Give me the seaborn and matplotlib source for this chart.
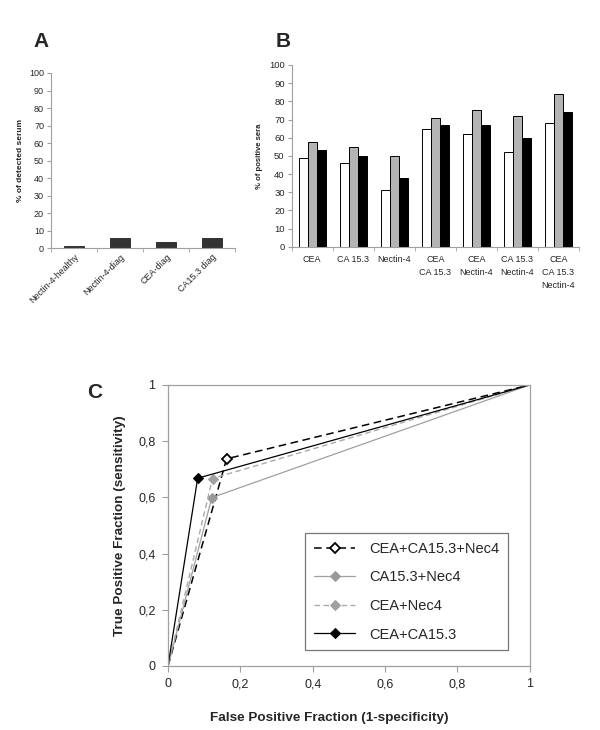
import numpy as np
import pandas as pd
import matplotlib
matplotlib.use("Agg")
import matplotlib.pyplot as plt
import seaborn as sns
from matplotlib.ticker import FixedLocator, FuncFormatter

# Datos panel A
a_labels = ["Nectin-4-healthy", "Nectin-4-diag", "CEA-diag", "CA15.3 diag"]
a_values = [1.5, 5.7, 3.8, 5.7]

# Datos panel B
b_groups = ["CEA", "CA 15.3", "Nectin-4", "CEA\nCA 15.3", "CEA\nNectin-4",
            "CA 15.3\nNectin-4", "CEA\nCA 15.3\nNectin-4"]
b_series = ["s1", "s2", "s3"]
b_white = [49, 46, 31, 64.5, 62, 52, 68]
b_gray = [57.5, 55, 50, 71, 75, 72, 84]
b_black = [53, 50, 38, 67, 67, 60, 74]

# Datos panel C (curvas ROC)
c_names = ["CEA+CA15.3+Nec4", "CA15.3+Nec4", "CEA+Nec4", "CEA+CA15.3"]
c_fpf = [[0, 0.162, 1], [0, 0.121, 1], [0, 0.123, 1], [0, 0.082, 1]]
c_tpf = [[0, 0.737, 1], [0, 0.599, 1], [0, 0.667, 1], [0, 0.668, 1]]

sns.set_style("white")
plt.rcParams["font.family"] = ["Liberation Sans", "DejaVu Sans"]

fig = plt.figure(figsize=(6, 7.3), dpi=100)
axis_gray = "#a0a0a0"

# ---- Panel A ----
axA = fig.add_axes([0.085, 0.660, 0.307, 0.240])
sns.barplot(x=a_labels, y=a_values, color="#333333", edgecolor="#222222",
            linewidth=0.6, width=0.43, ax=axA)
axA.set_xlim(-0.5, 3.5)
axA.set_ylim(0, 100)
axA.set_yticks(range(0, 101, 10))
axA.tick_params(axis="y", labelsize=6.5, length=3, color=axis_gray, pad=2, direction="out", left=True)
axA.tick_params(axis="x", which="major", length=0, labelsize=6.5, pad=3)
axA.xaxis.set_minor_locator(FixedLocator(np.arange(-0.5, 4, 1)))
axA.tick_params(axis="x", which="minor", length=3, color=axis_gray, direction="out", bottom=True)
plt.setp(axA.get_xticklabels(), rotation=45, ha="right", rotation_mode="anchor")
axA.set_ylabel("% of detected serum", fontsize=6, fontweight="bold", labelpad=4)
for s in ["top", "right"]:
    axA.spines[s].set_visible(False)
for s in ["left", "bottom"]:
    axA.spines[s].set_color(axis_gray)
    axA.spines[s].set_linewidth(0.8)
fig.text(0.055, 0.935, "A", fontsize=15, fontweight="bold")

# ---- Panel B ----
axB = fig.add_axes([0.486, 0.662, 0.479, 0.249])
dfB = pd.DataFrame({
    "group": b_groups * 3,
    "serie": [b_series[0]] * 7 + [b_series[1]] * 7 + [b_series[2]] * 7,
    "value": b_white + b_gray + b_black,
})
sns.barplot(data=dfB, x="group", y="value", hue="serie",
            palette=["white", "#b4b4b4", "black"], edgecolor="black",
            linewidth=0.7, width=0.66, ax=axB, legend=False)
axB.set_xlim(-0.5, 6.5)
axB.set_ylim(0, 100)
axB.set_yticks(range(0, 101, 10))
axB.tick_params(axis="y", labelsize=6.8, length=3, color=axis_gray, pad=2, direction="out", left=True)
axB.tick_params(axis="x", which="major", length=0, labelsize=6.5, pad=6)
axB.xaxis.set_minor_locator(FixedLocator(np.arange(-0.5, 7, 1)))
axB.tick_params(axis="x", which="minor", length=3, color=axis_gray, direction="out", bottom=True)
for lab in axB.get_xticklabels():
    lab.set_verticalalignment("top")
    lab.set_linespacing(1.6)
axB.set_xlabel("")
axB.set_ylabel("% of positive sera", fontsize=5.6, fontweight="bold", labelpad=4)
for s in ["top", "right"]:
    axB.spines[s].set_visible(False)
for s in ["left", "bottom"]:
    axB.spines[s].set_color(axis_gray)
    axB.spines[s].set_linewidth(0.8)
fig.text(0.46, 0.935, "B", fontsize=15, fontweight="bold")

# ---- Panel C ----
axC = fig.add_axes([0.28, 0.0877, 0.603, 0.385])
estilos = [
    dict(color="black", linestyle=(0, (5, 3)), linewidth=1.1, marker="D",
         markerfacecolor="white", markeredgecolor="black", markeredgewidth=1.3, markersize=5),
    dict(color="#a0a0a0", linestyle="-", linewidth=0.9, marker="D",
         markerfacecolor="#999999", markeredgecolor="#999999", markersize=5),
    dict(color="#aaaaaa", linestyle=(0, (4, 2.5)), linewidth=1.0, marker="D",
         markerfacecolor="#a0a0a0", markeredgecolor="#a0a0a0", markersize=5),
    dict(color="black", linestyle="-", linewidth=0.9, marker="D",
         markerfacecolor="black", markeredgecolor="black", markersize=5),
]
for nombre, fx, ty, st in zip(c_names, c_fpf, c_tpf, estilos):
    sns.lineplot(x=fx, y=ty, ax=axC, label=nombre, markevery=[1], **st)

axC.set_xlim(0, 1)
axC.set_ylim(0, 1)
ticks = np.arange(0, 1.01, 0.2)
axC.set_xticks(ticks)
axC.set_yticks(ticks)
fmt = FuncFormatter(lambda v, p: "0" if v == 0 else ("1" if abs(v - 1) < 1e-9 else f"{v:.1f}".replace(".", ",")))
axC.xaxis.set_major_formatter(fmt)
axC.yaxis.set_major_formatter(fmt)
axC.tick_params(labelsize=9, length=4, color=axis_gray, direction="out",
                left=True, bottom=True, pad=5)
for s in axC.spines.values():
    s.set_color(axis_gray)
    s.set_linewidth(0.9)
axC.set_xlabel("False Positive Fraction (1-specificity)", fontsize=9.7, fontweight="bold")
axC.xaxis.set_label_coords(0.445, -0.165)
axC.set_ylabel("True Positive Fraction (sensitivity)", fontsize=9.7, fontweight="bold", labelpad=9)
leg = axC.legend(loc="lower right", bbox_to_anchor=(0.961, 0.03), fontsize=10.5,
                 frameon=True, fancybox=False, edgecolor="#555555",
                 handlelength=2.8, labelspacing=1.0, borderpad=0.6, handletextpad=1.0)
leg.get_frame().set_linewidth(0.9)
fig.text(0.145, 0.455, "C", fontsize=15, fontweight="bold")

fig.savefig("out.png", dpi=100)
